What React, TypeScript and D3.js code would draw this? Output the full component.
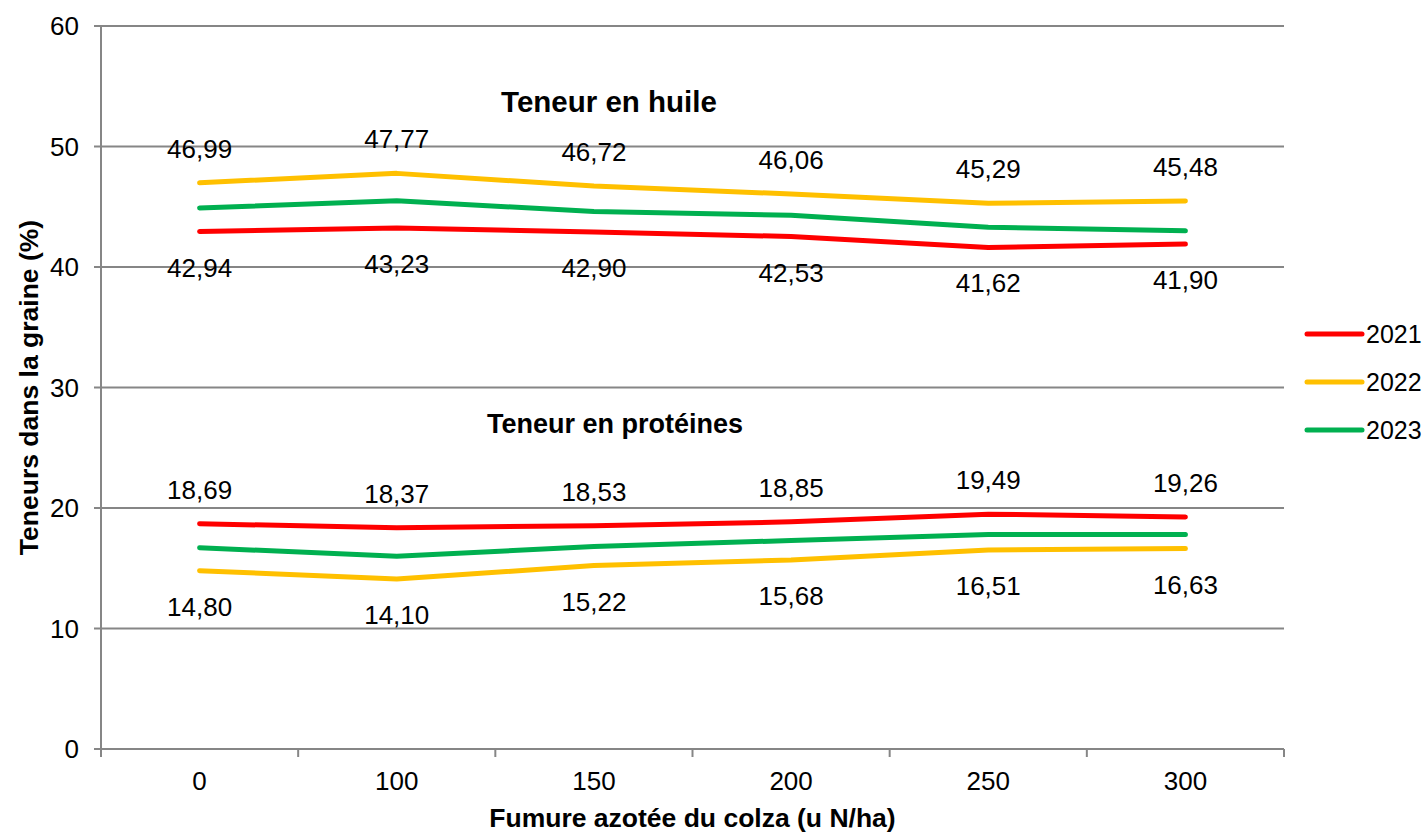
import * as d3 from 'd3';

const categories = ['0', '100', '150', '200', '250', '300'];
const years = ['2021', '2022', '2023'];
const colors = ['#ff0000', '#ffc000', '#00b050'];

// oil content (%)
const oil2021 = [42.94, 43.23, 42.9, 42.53, 41.62, 41.9];
const oil2022 = [46.99, 47.77, 46.72, 46.06, 45.29, 45.48];
const oil2023 = [44.9, 45.5, 44.6, 44.3, 43.3, 43.0];

// protein content (%)
const prot2021 = [18.69, 18.37, 18.53, 18.85, 19.49, 19.26];
const prot2022 = [14.8, 14.1, 15.22, 15.68, 16.51, 16.63];
const prot2023 = [16.7, 16.0, 16.8, 17.3, 17.8, 17.8];

const yTicks = [0, 10, 20, 30, 40, 50, 60];

type Series = { values: number[]; color: string; label: 'above' | 'below' | 'none' };

const series: Series[] = [
  { values: oil2021, color: colors[0], label: 'below' },
  { values: oil2022, color: colors[1], label: 'above' },
  { values: oil2023, color: colors[2], label: 'none' },
  { values: prot2021, color: colors[0], label: 'above' },
  { values: prot2022, color: colors[1], label: 'below' },
  { values: prot2023, color: colors[2], label: 'none' },
];

const W = 1426;
const H = 834;
const left = 101;
const right = 1284;
const top = 26;
const bottom = 749;
const font = 'Liberation Sans, Arial, sans-serif';
const axisColor = '#868686';

export default function App() {
  const x = d3.scaleBand<string>().domain(categories).range([left, right]);
  const y = d3.scaleLinear().domain([0, 60]).range([bottom, top]);
  const cx = (i: number) => (x(categories[i]) as number) + x.bandwidth() / 2;
  const line = d3
    .line<number>()
    .x((_, i) => cx(i))
    .y((d) => y(d));
  const fmt = (v: number) => v.toFixed(2).replace('.', ',');
  const bounds = [...categories.map((c) => x(c) as number), right];

  return (
    <div style={{ position: 'fixed', left: 0, top: 0 }}>
      <svg width={W} height={H} style={{ display: 'block', background: '#fff' }} fontFamily={font}>
        {yTicks.map((t) => (
          <g key={t}>
            <line x1={left - 7} x2={right} y1={y(t)} y2={y(t)} stroke={axisColor} strokeWidth={2} />
            <text x={79} y={y(t)} fontSize={26} textAnchor="end" dominantBaseline="central">
              {t}
            </text>
          </g>
        ))}
        <line x1={left} x2={left} y1={top} y2={bottom} stroke={axisColor} strokeWidth={2} />
        {bounds.map((b, i) => (
          <line key={i} x1={b} x2={b} y1={bottom} y2={bottom + 8} stroke={axisColor} strokeWidth={2} />
        ))}
        {categories.map((c, i) => (
          <text key={c} x={cx(i)} y={781} fontSize={26} textAnchor="middle" dominantBaseline="central">
            {c}
          </text>
        ))}

        {series.map((s, k) => (
          <path
            key={k}
            d={line(s.values) as string}
            fill="none"
            stroke={s.color}
            strokeWidth={5}
            strokeLinecap="round"
            strokeLinejoin="round"
          />
        ))}
        {series.map((s, k) =>
          s.label === 'none'
            ? null
            : s.values.map((v, i) => (
                <text
                  key={`${k}-${i}`}
                  x={cx(i)}
                  y={y(v) + (s.label === 'above' ? -34 : 36)}
                  fontSize={26}
                  textAnchor="middle"
                  dominantBaseline="central"
                >
                  {fmt(v)}
                </text>
              )),
        )}

        <text x={609} y={y(53.75)} fontSize={29.5} fontWeight="bold" textAnchor="middle" dominantBaseline="central">
          Teneur en huile
        </text>
        <text x={615} y={y(27.0)} fontSize={27} fontWeight="bold" textAnchor="middle" dominantBaseline="central">
          Teneur en protéines
        </text>

        <text
          transform={`translate(29, ${(top + bottom) / 2}) rotate(-90)`}
          fontSize={26.5}
          fontWeight="bold"
          textAnchor="middle"
          dominantBaseline="central"
        >
          Teneurs dans la graine (%)
        </text>
        <text x={(left + right) / 2} y={818} fontSize={26.5} fontWeight="bold" textAnchor="middle" dominantBaseline="central">
          Fumure azotée du colza (u N/ha)
        </text>

        {years.map((yr, i) => (
          <g key={yr} transform={`translate(1307, ${334 + i * 48})`}>
            <line x1={0} x2={55} y1={0} y2={0} stroke={colors[i]} strokeWidth={5} strokeLinecap="round" />
            <text x={59} y={0} fontSize={25} dominantBaseline="central">
              {yr}
            </text>
          </g>
        ))}
      </svg>
    </div>
  );
}
